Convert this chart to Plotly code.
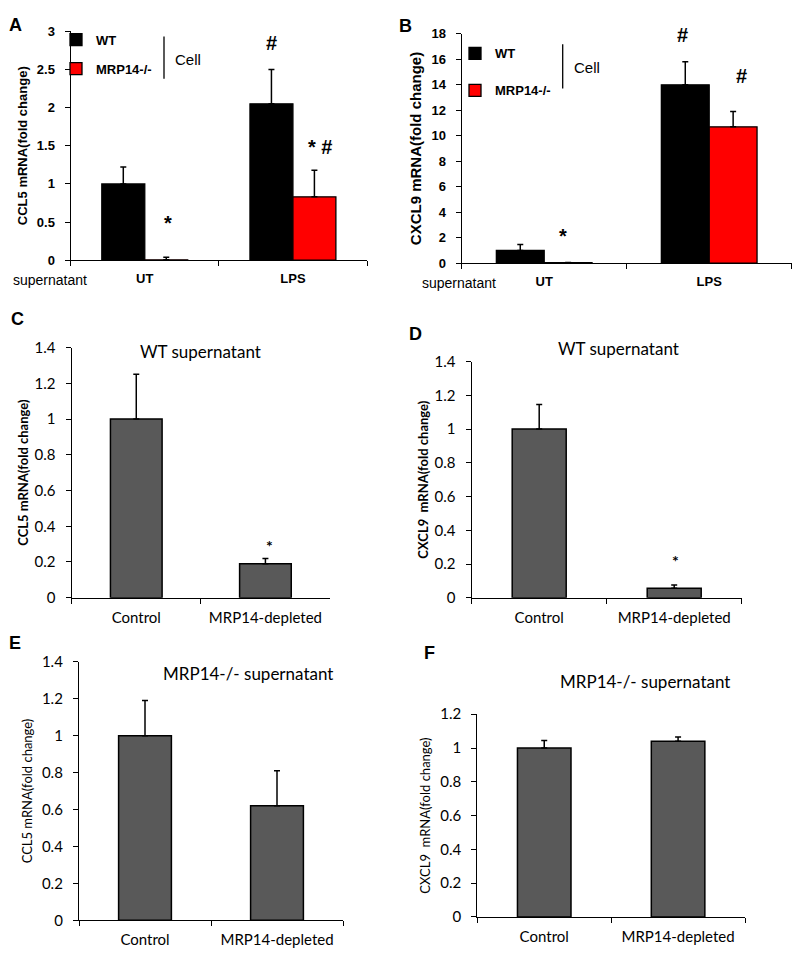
import plotly.graph_objects as go

# ---------------- data ----------------
ab_categories = ["UT", "LPS"]
a_wt = [1.0, 2.05]
a_wt_err = [0.22, 0.45]
a_mrp = [0.005, 0.83]
a_mrp_err = [0.035, 0.35]

b_wt = [1.0, 14.0]
b_wt_err = [0.47, 1.8]
b_mrp = [0.03, 10.7]
b_mrp_err = [0.02, 1.2]

cf_categories = ["Control", "MRP14-depleted"]
c_vals = [1.0, 0.19]
c_err = [0.25, 0.03]
d_vals = [1.0, 0.056]
d_err = [0.145, 0.02]
e_vals = [1.0, 0.62]
e_err = [0.19, 0.19]
f_vals = [1.0, 1.04]
f_err = [0.045, 0.025]

W, H = 800, 958
ARIAL = "Liberation Sans"
CAL = "Lato"
GRAY = "#595959"
RED = "#FF0000"


def px_x(p):
    return p / W


def px_y(p):
    return 1 - p / H


fig = go.Figure()


def grouped(xa, ya, wt, wt_err, mrp, mrp_err, legend, gwt, gmrp):
    fig.add_trace(go.Bar(
        x=ab_categories, y=wt, name="WT", xaxis=xa, yaxis=ya,
        width=0.29, offset=-0.29,
        marker=dict(color="black", line=dict(color="black", width=1.3)),
        error_y=dict(type="data", symmetric=False, array=wt_err,
                     arrayminus=[0] * len(wt_err), color="black",
                     thickness=1.5, width=3),
        legend=legend, legendgroup=gwt, showlegend=True))
    fig.add_trace(go.Bar(
        x=ab_categories, y=mrp, name="MRP14-/-", xaxis=xa, yaxis=ya,
        width=0.29, offset=0.0,
        marker=dict(color=RED, line=dict(color="black", width=1.3)),
        error_y=dict(type="data", symmetric=False, array=mrp_err,
                     arrayminus=[0] * len(mrp_err), color="black",
                     thickness=1.5, width=3),
        legend=legend, legendgroup=gmrp, showlegend=True))


def single(xa, ya, vals, err):
    fig.add_trace(go.Bar(
        x=cf_categories, y=vals, xaxis=xa, yaxis=ya,
        width=0.4, offset=-0.2, showlegend=False,
        marker=dict(color=GRAY, line=dict(color="black", width=1.5)),
        error_y=dict(type="data", symmetric=False, array=err,
                     arrayminus=[0] * len(err), color="black",
                     thickness=1.5, width=3)))


grouped("x", "y", a_wt, a_wt_err, a_mrp, a_mrp_err, "legend", "wta", "mrpa")
grouped("x2", "y2", b_wt, b_wt_err, b_mrp, b_mrp_err, "legend2", "wtb", "mrpb")
single("x3", "y3", c_vals, c_err)
single("x4", "y4", d_vals, d_err)
single("x5", "y5", e_vals, e_err)
single("x6", "y6", f_vals, f_err)


def xaxis_cfg(dom, anchor, font):
    return dict(domain=dom, anchor=anchor, type="category", range=[-0.5, 1.5],
                tickson="boundaries", ticks="outside", ticklen=5, tickwidth=1.3,
                tickcolor="black", showline=True, linecolor="black", linewidth=1.3,
                showgrid=False, zeroline=False, tickfont=font,
                ticklabelstandoff=6, fixedrange=True)


def yaxis_cfg(dom, anchor, rng, dtick, tfont, title, titlefont, standoff):
    return dict(domain=dom, anchor=anchor, range=rng, dtick=dtick, tick0=0,
                ticks="outside", ticklen=5, tickwidth=1.3, tickcolor="black",
                showline=True, linecolor="black", linewidth=1.3,
                showgrid=False, zeroline=False, tickfont=tfont,
                ticklabelstandoff=7,
                title=dict(text=title, font=titlefont, standoff=standoff),
                fixedrange=True)


bold_tick = dict(family=ARIAL, size=13, color="black", weight="bold")
cal_tick = dict(family=CAL, size=15, color="black")

layout = dict(
    width=W, height=H, margin=dict(l=0, r=0, t=0, b=0),
    paper_bgcolor="white", plot_bgcolor="white", showlegend=True,
    xaxis=xaxis_cfg([px_x(70.7), px_x(367)], "y", bold_tick),
    xaxis2=xaxis_cfg([px_x(461.7), px_x(791.7)], "y2", bold_tick),
    xaxis3=xaxis_cfg([px_x(71.7), px_x(330)], "y3", cal_tick),
    xaxis4=xaxis_cfg([px_x(471.7), px_x(741.7)], "y4", cal_tick),
    xaxis5=xaxis_cfg([px_x(79), px_x(343)], "y5", cal_tick),
    xaxis6=xaxis_cfg([px_x(477.3), px_x(745)], "y6", cal_tick),
    yaxis=yaxis_cfg([px_y(255), px_y(21.7)], "x", [0, 3], 0.5, bold_tick,
                    "CCL5 mRNA(fold change)",
                    dict(family=ARIAL, size=13, color="black", weight="bold"), 6),
    yaxis2=yaxis_cfg([px_y(258), px_y(24.3)], "x2", [0, 18], 2, bold_tick,
                     "CXCL9 mRNA(fold change)",
                     dict(family=ARIAL, size=15, color="black", weight="bold"), 6),
    yaxis3=yaxis_cfg([px_y(599), px_y(344)], "x3", [0, 1.4], 0.2, cal_tick,
                     "CCL5 mRNA(fold change)",
                     dict(family=CAL, size=13, color="black", weight="bold"), 3),
    yaxis4=yaxis_cfg([px_y(599), px_y(358.3)], "x4", [0, 1.4], 0.2, cal_tick,
                     "CXCL9  mRNA(fold change)",
                     dict(family=CAL, size=13, color="black", weight="bold"), 3),
    yaxis5=yaxis_cfg([px_y(927.7), px_y(664.3)], "x5", [0, 1.4], 0.2, cal_tick,
                     "CCL5 mRNA(fold change)",
                     dict(family=CAL, size=13, color="black"), 6),
    yaxis6=yaxis_cfg([px_y(924.3), px_y(717.7)], "x6", [0, 1.2], 0.2, cal_tick,
                     "CXCL9  mRNA(fold change)",
                     dict(family=CAL, size=13, color="black"), 6),
    legend=dict(x=px_x(56), y=px_y(15), xanchor="left", yanchor="top",
                bgcolor="rgba(0,0,0,0)", borderwidth=0, tracegroupgap=9,
                font=dict(family=ARIAL, size=13, color="black", weight="bold"),
                itemclick=False, itemdoubleclick=False),
    legend2=dict(x=px_x(455), y=px_y(29), xanchor="left", yanchor="top",
                 bgcolor="rgba(0,0,0,0)", borderwidth=0, tracegroupgap=17,
                 font=dict(family=ARIAL, size=13, color="black", weight="bold"),
                 itemclick=False, itemdoubleclick=False),
)
fig.update_layout(**layout)

ann = []


def paper_text(text, x, y, font, xanchor="center"):
    ann.append(dict(text=text, x=px_x(x), y=px_y(y), xref="paper", yref="paper",
                    xanchor=xanchor, yanchor="middle", showarrow=False, font=font))


def data_text(text, xr, yr, x, y, size, family=ARIAL):
    ann.append(dict(text=text, x=x, y=y, xref=xr, yref=yr, xanchor="center",
                    yanchor="middle", showarrow=False,
                    font=dict(family=family, size=size, color="black", weight="bold")))


letter = dict(family=ARIAL, size=18, color="black", weight="bold")
paper_text("A", 15, 15, letter)
paper_text("B", 405, 16, letter)
paper_text("C", 17, 315, letter)
paper_text("D", 415, 330, letter)
paper_text("E", 15, 645, letter)
paper_text("F", 429, 655, letter)

sup = dict(family=ARIAL, size=14, color="black")
paper_text("supernatant", 50, 275, sup)
paper_text("supernatant", 459, 278, sup)
paper_text("Cell", 173, 50, dict(family=ARIAL, size=15, color="black"), "left")
paper_text("Cell", 571.7, 59, dict(family=ARIAL, size=15, color="black"), "left")

ttl = dict(family=CAL, size=17, color="black")
paper_text("WT supernatant", 200, 348, ttl)
paper_text("WT supernatant", 618, 345, ttl)
paper_text("MRP14-/- supernatant", 248, 676, ttl)
paper_text("MRP14-/- supernatant", 645, 684, ttl)

# significance marks
data_text("#", "x", "y", 0.855, 2.85, 20)
data_text("*", "x", "y", 0.156, 0.49, 20)
data_text("* #", "x", "y", 1.18, 1.48, 20)
data_text("#", "x2", "y2", 0.839, 17.9, 20)
data_text("#", "x2", "y2", 1.197, 14.7, 20)
data_text("*", "x2", "y2", 0.114, 2.16, 20)
data_text("*", "x3", "y3", 1.035, 0.29, 16, CAL)
data_text("*", "x4", "y4", 1.006, 0.22, 16, CAL)

fig.update_layout(annotations=ann)

# bracket lines next to the legends
fig.add_shape(type="line", xref="paper", yref="paper",
              x0=px_x(164), x1=px_x(164), y0=px_y(27), y1=px_y(70),
              line=dict(color="black", width=1.3))
fig.add_shape(type="line", xref="paper", yref="paper",
              x0=px_x(562.7), x1=px_x(562.7), y0=px_y(35), y1=px_y(80),
              line=dict(color="black", width=1.3))

page_css = (
    "var de=document.documentElement, bd=document.body;"
    "de.style.margin='0';de.style.padding='0';de.style.overflow='hidden';"
    "bd.style.margin='0';bd.style.padding='0';bd.style.overflow='hidden';"
)
fig.write_html("out.html", config={"displayModeBar": False},
               post_script=page_css)
